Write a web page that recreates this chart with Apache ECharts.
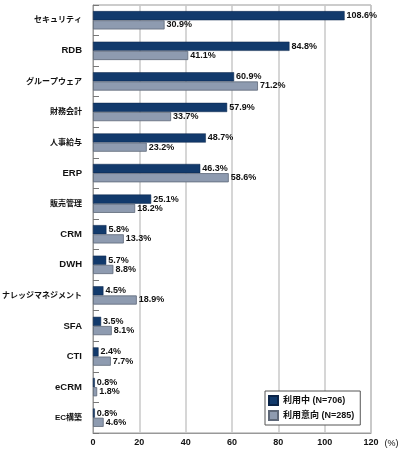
<!DOCTYPE html>
<html>
<head>
<meta charset="utf-8">
<script src="https://cdn.jsdelivr.net/npm/echarts@6/dist/echarts.min.js"></script>
<style>
html,body{margin:0;padding:0;background:#fff;}
#chart{width:400px;height:449px;}
</style>
</head>
<body>
<div id="chart"></div>
<script>
var categories = ['セキュリティ','RDB','グループウェア','財務会計','人事給与','ERP','販売管理','CRM','DWH','ナレッジマネジメント','SFA','CTI','eCRM','EC構築'];
var inUse = [108.6, 84.8, 60.9, 57.9, 48.7, 46.3, 25.1, 5.8, 5.7, 4.5, 3.5, 2.4, 0.8, 0.8];
var intent = [30.9, 41.1, 71.2, 33.7, 23.2, 58.6, 18.2, 13.3, 8.8, 18.9, 8.1, 7.7, 1.8, 4.6];
var xTicks = [0, 20, 40, 60, 80, 100, 120];

var font = '"Liberation Sans", "Noto Sans CJK JP", sans-serif';

var myChart = echarts.init(document.getElementById('chart'));

var valueLabel = {
    show: true,
    position: 'right',
    distance: 2,
    color: '#111',
    fontSize: 9,
    fontWeight: 'bold',
    fontFamily: font,
    formatter: function (p) { return p.value.toFixed(1) + '%'; }
};

myChart.setOption({
    animation: false,
    grid: { left: 93, right: 29, top: 5, bottom: 16, show: true, borderColor: '#999', borderWidth: 1,
        containLabel: false, outerBoundsMode: 'none' },
    legend: {
        orient: 'vertical',
        left: 265, top: 391,
        icon: 'rect',
        itemWidth: 9, itemHeight: 9, itemGap: 4,
        padding: [4, 6, 4, 3],
        borderColor: '#555', borderWidth: 1,
        backgroundColor: '#fff',
        textStyle: { fontSize: 9, fontFamily: font, fontWeight: 'bold', color: '#111' },
        data: ['利用中 (N=706)', '利用意向 (N=285)']
    },
    xAxis: {
        type: 'value', min: 0, max: 120, interval: 20,
        name: '(%)', nameLocation: 'end', nameGap: 10,
        nameTextStyle: { fontSize: 9, fontFamily: font, color: '#111', verticalAlign: 'top', align: 'left', padding: [6, 0, 0, 0] },
        axisLine: { show: true, lineStyle: { color: '#999' } },
        axisTick: { show: false },
        axisLabel: { fontSize: 9, fontWeight: 'bold', fontFamily: font, color: '#111', margin: 5,
            formatter: function (v) { return xTicks.indexOf(v) >= 0 ? String(v) : ''; } },
        splitLine: { show: true, lineStyle: { color: '#c8c8c8', width: 1.5 } }
    },
    yAxis: {
        type: 'category', inverse: true, data: categories,
        axisLine: { show: true, lineStyle: { color: '#999' } },
        axisTick: { show: true, inside: true, length: 6, lineStyle: { color: '#777' } },
        axisLabel: {
            fontWeight: 'bold', fontFamily: font, color: '#111', margin: 11,
            formatter: function (v) {
                return /^[\x00-\x7f]+$/.test(v) ? '{l|' + v + '}' : '{j|' + v + '}';
            },
            rich: {
                l: { fontSize: 9.5, fontWeight: 'bold', fontFamily: font, color: '#111' },
                j: { fontSize: 8, fontWeight: 'bold', fontFamily: font, color: '#111' }
            }
        }
    },
    series: [{
        name: '利用中 (N=706)', type: 'bar', data: inUse,
        barGap: '0%', barCategoryGap: '40%',
        itemStyle: { color: '#123a6c', borderColor: '#0b2448', borderWidth: 0.5 },
        label: valueLabel
    }, {
        name: '利用意向 (N=285)', type: 'bar', data: intent,
        itemStyle: { color: '#8e9bb0', borderColor: '#5e6878', borderWidth: 0.8 },
        label: valueLabel
    }]
});
</script>
</body>
</html>
